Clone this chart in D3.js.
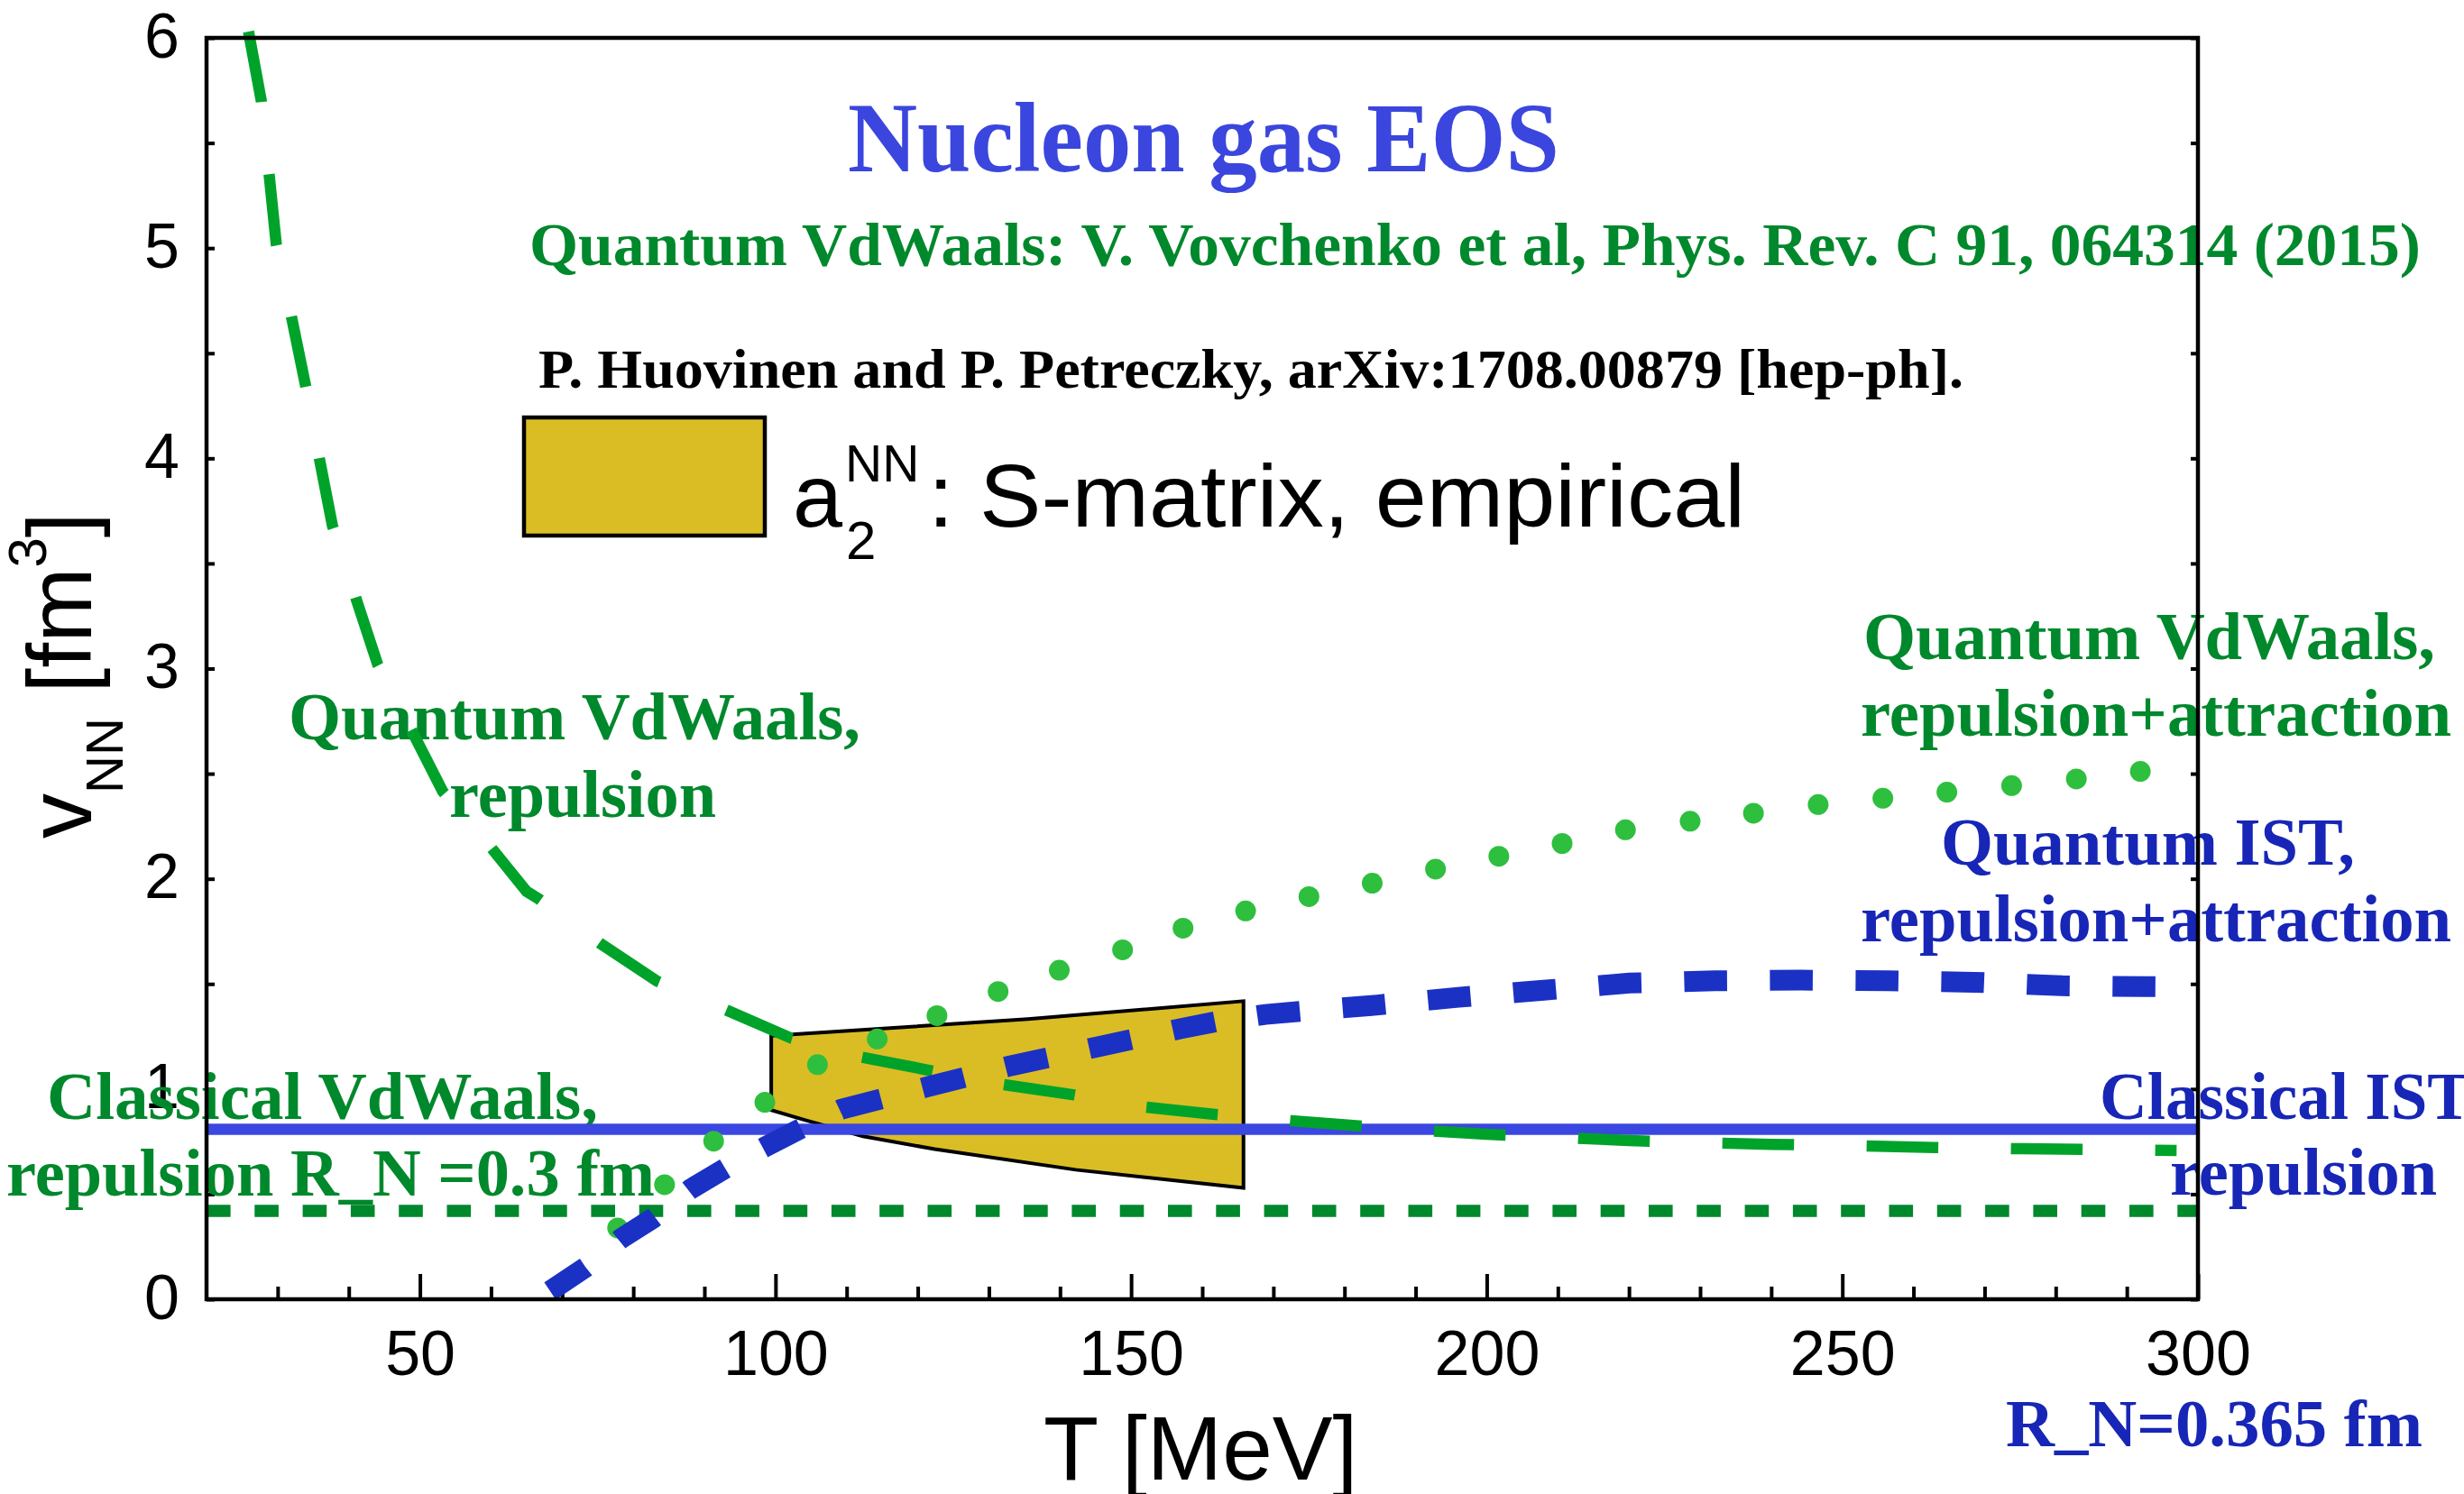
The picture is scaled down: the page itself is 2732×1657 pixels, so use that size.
<!DOCTYPE html>
<html>
<head>
<meta charset="utf-8">
<script src="https://cdn.jsdelivr.net/npm/d3@7"></script>
<style>
  html, body { margin: 0; padding: 0; background: #fff; overflow: hidden; }
  svg { display: block; }
</style>
</head>
<body>
<svg id="chart" width="2732" height="1657"></svg>
<script>
// ---- data -------------------------------------------------------------
// T in MeV, v_NN in fm^3
const xTickLabels = [50, 100, 150, 200, 250, 300];
const yTickLabels = [0, 1, 2, 3, 4, 5, 6];

// Quantum VdWaals, repulsion only
const qvdwRepulsion = [
  [25.9, 6.03], [27.7, 5.70], [28.8, 5.35], [29.8, 5.02], [31.9, 4.68], [33.9, 4.35],
  [35.8, 4.01], [37.7, 3.68], [40.95, 3.34], [44.06, 3.02], [49.0, 2.695], [53.2, 2.416],
  [60.1, 2.145], [65.0, 1.94], [66.6, 1.907], [75.3, 1.694], [83.3, 1.514], [93.2, 1.374],
  [102.2, 1.242], [112.0, 1.152], [121.9, 1.087], [131.9, 1.022], [142.0, 0.972],
  [152.1, 0.914], [162.1, 0.878], [172.5, 0.849], [180, 0.83], [190, 0.805], [200, 0.785],
  [210, 0.77], [220, 0.755], [230, 0.745], [240, 0.737], [253, 0.729], [263, 0.722],
  [275, 0.716], [285, 0.712], [297, 0.708]
];

// Quantum VdWaals, repulsion + attraction
const qvdwRepAttr = [
  [77.8, 0.339], [84.4, 0.545], [91.3, 0.752], [98.5, 0.937], [105.9, 1.116], [114.3, 1.238],
  [122.7, 1.349], [131.3, 1.464], [139.9, 1.565], [148.8, 1.662], [157.3, 1.765], [166.1, 1.847],
  [175.0, 1.915], [183.9, 1.979], [192.8, 2.046], [201.7, 2.107], [210.6, 2.168], [219.5, 2.233],
  [228.6, 2.274], [237.5, 2.312], [246.6, 2.353], [255.7, 2.383], [264.7, 2.412], [273.8, 2.443],
  [282.9, 2.475], [291.9, 2.511]
];

// Quantum IST, repulsion + attraction
const qistRepAttr = [
  [68.3, 0.039], [73.3, 0.152], [78.3, 0.289], [82.7, 0.384], [88.1, 0.525], [93.0, 0.624],
  [98.5, 0.724], [103.8, 0.816], [109.2, 0.903], [115.1, 0.955], [121.1, 1.008], [126.9, 1.058],
  [133.0, 1.110], [138.8, 1.152], [144.9, 1.198], [150.8, 1.241], [156.9, 1.287], [162.8, 1.326],
  [168.9, 1.355], [174.9, 1.373], [183.8, 1.397], [196.0, 1.436], [208.0, 1.470], [220.1, 1.504],
  [232.1, 1.515], [244.2, 1.518], [256.4, 1.515], [268.5, 1.508], [280.8, 1.491], [292.8, 1.487],
  [296.5, 1.486]
];

// Classical (temperature independent) excluded volumes
const classicalIST = 0.808;   // R_N = 0.365 fm
const classicalVdW = 0.42;    // R_N = 0.3 fm
const tRange = [20, 300];

// a2^NN band from S-matrix / empirical phase shifts
const bandUpper = [[99.4, 1.253], [135.5, 1.333], [165.8, 1.418]];
const bandLower = [[99.4, 0.90], [104.2, 0.852], [112.3, 0.775], [122.4, 0.714], [142.2, 0.616], [165.8, 0.530]];

// ---- styles -----------------------------------------------------------
const C = {
  title: '#3b46de',
  greenText: '#00882c',
  blueText: '#1726b6',
  blueSolid: '#3a47e0',
  blueDash: '#1b31c4',
  greenDash: '#00a32a',
  greenDot: '#2ebf3e',
  greenSquare: '#00882c',
  band: '#dabd25'
};
const SERIF = "'Liberation Serif', 'Times New Roman', serif";
const SANS = "'Liberation Sans', Arial, sans-serif";

// ---- scales -----------------------------------------------------------
const x = d3.scaleLinear().domain([20, 300]).range([229, 2437]);
const y = d3.scaleLinear().domain([0, 6]).range([1441, 42]);

const svg = d3.select('#chart');
svg.append('rect').attr('width', 2732).attr('height', 1657).attr('fill', '#fff');

// ---- axes: ticks and labels ------------------------------------------
const gx = svg.append('g').attr('transform', `translate(0,${y(0)})`);
gx.call(d3.axisBottom(x).tickValues(d3.range(30, 300, 10).filter(t => t % 50 !== 0))
  .tickSize(-14).tickFormat(''));
gx.select('.domain').remove();
const gxMajor = svg.append('g').attr('transform', `translate(0,${y(0)})`);
gxMajor.call(d3.axisBottom(x).tickValues(xTickLabels).tickSize(-28).tickPadding(34));
gxMajor.select('.domain').remove();
[gx, gxMajor].forEach(g => g.selectAll('line').attr('stroke', '#000').attr('stroke-width', 4));
gxMajor.selectAll('text').attr('font-family', SANS).attr('font-size', 70).attr('fill', '#000');

const gy = svg.append('g').attr('transform', `translate(${x(20)},0)`);
gy.call(d3.axisLeft(y).tickValues(d3.range(0, 6.01, 0.5)).tickSize(-9).tickPadding(30)
  .tickFormat(d => Number.isInteger(d) ? d : ''));
gy.select('.domain').remove();
gy.selectAll('line').attr('stroke', '#000').attr('stroke-width', 4);
gy.selectAll('text').attr('font-family', SANS).attr('font-size', 70).attr('fill', '#000').attr('dy', '0.30em');

const gyR = svg.append('g').attr('transform', `translate(${x(300)},0)`);
gyR.call(d3.axisRight(y).tickValues(d3.range(0, 6.01, 0.5)).tickSize(-8).tickFormat(''));
gyR.select('.domain').remove();
gyR.selectAll('line').attr('stroke', '#000').attr('stroke-width', 4);

// axis titles
svg.append('text').attr('x', 1157).attr('y', 1641)
  .attr('font-family', SANS).attr('font-size', 100).attr('fill', '#000')
  .text('T [MeV]');

const yTitle = svg.append('text')
  .attr('transform', 'translate(101,930) rotate(-90)')
  .attr('font-family', SANS).attr('font-size', 100).attr('fill', '#000');
yTitle.append('tspan').text('v');
yTitle.append('tspan').attr('font-size', 58).attr('dy', 35).text('NN');
yTitle.append('tspan').attr('dy', -35).text(' [fm');
yTitle.append('tspan').attr('font-size', 60).attr('dy', -50).text('3');
yTitle.append('tspan').attr('dy', 50).text(']');

// ---- annotations ------------------------------------------------------
const notes = [
  { text: 'Nucleon gas EOS', x: 940, y: 190, size: 110, len: 789, color: C.title },
  { text: 'Quantum VdWaals: V. Vovchenko et al, Phys. Rev. C 91, 064314 (2015)', x: 587, y: 294, size: 68, len: 2097, color: C.greenText },
  { text: 'P. Huovinen and P. Petreczky, arXiv:1708.00879 [hep-ph].', x: 597, y: 430, size: 62, len: 1580, color: '#000' },
  { text: 'Quantum VdWaals,', x: 320, y: 820, size: 75, len: 634, color: C.greenText },
  { text: 'repulsion', x: 498, y: 906, size: 75, len: 296, color: C.greenText },
  { text: 'Quantum VdWaals,', x: 2066, y: 731, size: 75, len: 634, color: C.greenText },
  { text: 'repulsion+attraction', x: 2063, y: 816, size: 75, len: 655, color: C.greenText },
  { text: 'Quantum IST,', x: 2152, y: 959, size: 75, len: 459, color: C.blueText },
  { text: 'repulsion+attraction', x: 2063, y: 1044, size: 75, len: 655, color: C.blueText },
  { text: 'Classical VdWaals,', x: 52, y: 1241, size: 75, len: 611, color: C.greenText },
  { text: 'repulsion R_N =0.3 fm', x: 7, y: 1326, size: 75, len: 719, color: C.greenText },
  { text: 'Classical IST', x: 2328, y: 1241, size: 75, len: 412, color: C.blueText },
  { text: 'repulsion', x: 2406, y: 1325, size: 75, len: 296, color: C.blueText },
  { text: 'R_N=0.365 fm', x: 2224, y: 1604, size: 75, len: 462, color: C.blueText }
];
svg.append('g').selectAll('text').data(notes).join('text')
  .attr('x', d => d.x).attr('y', d => d.y)
  .attr('font-family', SERIF).attr('font-weight', 'bold')
  .attr('font-size', d => d.size).attr('fill', d => d.color)
  .attr('textLength', d => d.len).attr('lengthAdjust', 'spacingAndGlyphs')
  .text(d => d.text);

// legend entry for the band
svg.append('rect').attr('x', 581).attr('y', 463).attr('width', 267).attr('height', 131)
  .attr('fill', C.band).attr('stroke', '#000').attr('stroke-width', 4.5);
const lg = svg.append('g').attr('font-family', SANS).attr('fill', '#000');
lg.append('text').attr('x', 879).attr('y', 584).attr('font-size', 99).text('a');
lg.append('text').attr('x', 938).attr('y', 620).attr('font-size', 60).text('2');
lg.append('text').attr('x', 937).attr('y', 534).attr('font-size', 57).text('NN');
lg.append('text').attr('x', 1029).attr('y', 584).attr('font-size', 99)
  .attr('textLength', 906).attr('lengthAdjust', 'spacingAndGlyphs')
  .text(': S-matrix, empirical');

// ---- marks -------------------------------------------------------------
const line = d3.line().x(d => x(d[0])).y(d => y(d[1]));

// band
svg.append('path')
  .attr('d', line(bandUpper.concat(bandLower.slice().reverse())) + 'Z')
  .attr('fill', C.band).attr('stroke', '#000').attr('stroke-width', 4)
  .attr('stroke-linejoin', 'miter');

// classical VdWaals (square dots)
svg.append('path')
  .attr('d', line(tRange.map(t => [t, classicalVdW])))
  .attr('fill', 'none').attr('stroke', C.greenSquare).attr('stroke-width', 13.5)
  .attr('stroke-dasharray', '26.6 26.7');

// classical IST (solid)
svg.append('path')
  .attr('d', line(tRange.map(t => [t, classicalIST])))
  .attr('fill', 'none').attr('stroke', C.blueSolid).attr('stroke-width', 12.5);

// quantum VdWaals, repulsion (long dashes)
svg.append('path')
  .attr('d', line(qvdwRepulsion))
  .attr('fill', 'none').attr('stroke', C.greenDash).attr('stroke-width', 12.5)
  .attr('stroke-dasharray', '79.5 80.5');

// quantum VdWaals, repulsion + attraction (dots)
svg.append('g').selectAll('circle').data(qvdwRepAttr).join('circle')
  .attr('cx', d => x(d[0])).attr('cy', d => y(d[1])).attr('r', 11.5)
  .attr('fill', C.greenDot);

// quantum IST, repulsion + attraction (thick dashes)
svg.append('path')
  .attr('d', line(qistRepAttr))
  .attr('fill', 'none').attr('stroke', C.blueDash).attr('stroke-width', 23)
  .attr('stroke-dasharray', '47.5 47.5');

// ---- frame --------------------------------------------------------------
svg.append('rect')
  .attr('x', x(20)).attr('y', y(6))
  .attr('width', x(300) - x(20)).attr('height', y(0) - y(6))
  .attr('fill', 'none').attr('stroke', '#000').attr('stroke-width', 4.5);
</script>
</body>
</html>
